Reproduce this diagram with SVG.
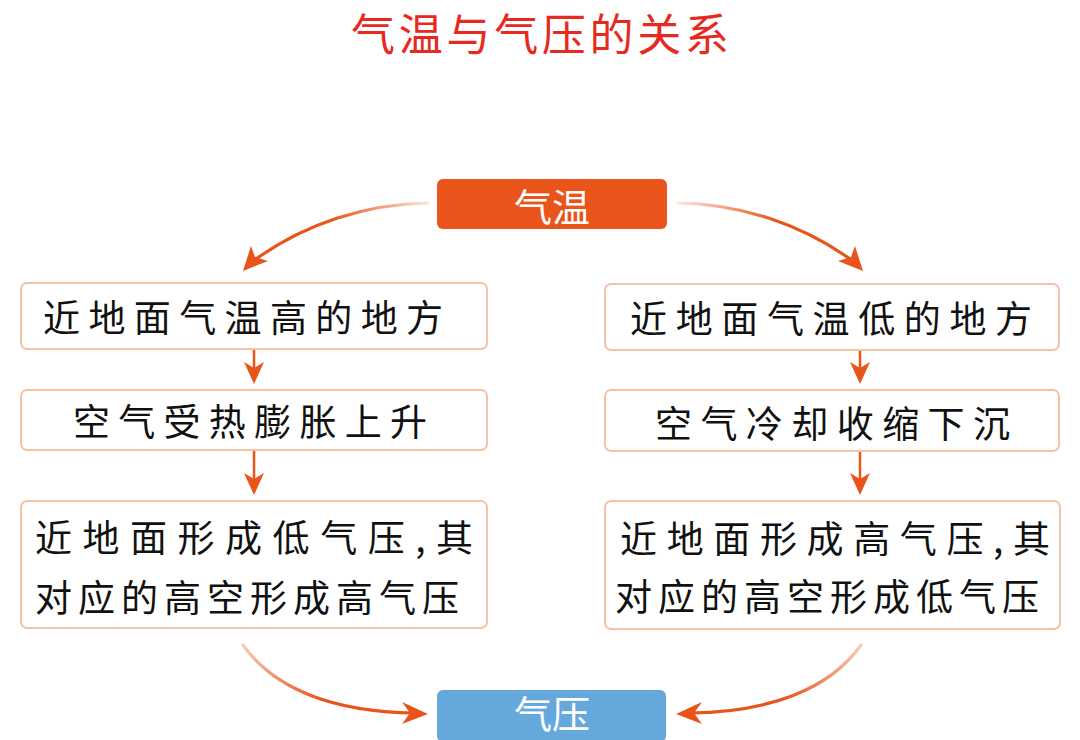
<svg xmlns="http://www.w3.org/2000/svg" width="1080" height="740" viewBox="0 0 1080 740">
<style>
.box{fill:#ffffff;stroke:#f5c3a6;stroke-width:2}
.t{font-family:"Noto Sans CJK SC","Noto Sans",sans-serif;font-size:37px;fill:#111111;dominant-baseline:central}
.hd{font-family:"Noto Sans CJK SC","Noto Sans",sans-serif;font-size:38px;fill:#ffffff;text-anchor:middle;dominant-baseline:central}
.ar{fill:none;stroke-width:3.2;stroke-linecap:round}
.ah{fill:#e8541a}
.sh{stroke:#e8541a;stroke-width:2.5}
</style>
<defs>
<linearGradient id="gL" gradientUnits="userSpaceOnUse" x1="430" y1="203" x2="330" y2="215"><stop offset="0" stop-color="#e8541a" stop-opacity="0.15"/><stop offset="1" stop-color="#e8541a"/></linearGradient>
<linearGradient id="gR" gradientUnits="userSpaceOnUse" x1="678" y1="203" x2="778" y2="215"><stop offset="0" stop-color="#e8541a" stop-opacity="0.15"/><stop offset="1" stop-color="#e8541a"/></linearGradient>
<linearGradient id="gBL" gradientUnits="userSpaceOnUse" x1="243" y1="645" x2="320" y2="700"><stop offset="0" stop-color="#e8541a" stop-opacity="0.3"/><stop offset="1" stop-color="#e8541a"/></linearGradient>
<linearGradient id="gBR" gradientUnits="userSpaceOnUse" x1="861" y1="645" x2="784" y2="700"><stop offset="0" stop-color="#e8541a" stop-opacity="0.3"/><stop offset="1" stop-color="#e8541a"/></linearGradient>
</defs>
<text id="title" x="540" y="32" font-family="'Noto Sans CJK SC','Noto Sans',sans-serif" font-size="44" fill="#e62a1f" text-anchor="middle" dominant-baseline="central" textLength="378" lengthAdjust="spacing">气温与气压的关系</text>

<g id="n-qiwen"><rect x="437" y="179" width="230" height="50" rx="6" fill="#e8541a"/><text class="hd" x="552" y="204" font-size="40">气温</text></g>
<g id="n-qiya"><rect x="437" y="690" width="229" height="52" rx="6" fill="#64a8dc"/><text class="hd" x="552" y="711">气压</text></g>

<g id="n-l1"><rect class="box" x="21" y="283" width="466" height="66" rx="6"/><text class="t" x="43" y="316" textLength="400" lengthAdjust="spacing">近地面气温高的地方</text></g>
<g id="n-l2"><rect class="box" x="21" y="390" width="466" height="60" rx="6"/><text class="t" x="73" y="420" textLength="354" lengthAdjust="spacing">空气受热膨胀上升</text></g>
<g id="n-l3"><rect class="box" x="21" y="501" width="466" height="127" rx="6"/><text class="t" x="35" y="536" textLength="438" lengthAdjust="spacing">近地面形成低气压,其</text><text class="t" x="35" y="596" textLength="424" lengthAdjust="spacing">对应的高空形成高气压</text></g>

<g id="n-r1"><rect class="box" x="605" y="284" width="454" height="66" rx="6"/><text class="t" x="630" y="317" textLength="402" lengthAdjust="spacing">近地面气温低的地方</text></g>
<g id="n-r2"><rect class="box" x="605" y="390" width="454" height="61" rx="6"/><text class="t" x="655" y="422" textLength="355" lengthAdjust="spacing">空气冷却收缩下沉</text></g>
<g id="n-r3"><rect class="box" x="605" y="501" width="455" height="128" rx="6"/><text class="t" x="620" y="537" textLength="430" lengthAdjust="spacing">近地面形成高气压,其</text><text class="t" x="615" y="595" textLength="424" lengthAdjust="spacing">对应的高空形成低气压</text></g>

<g id="connectors">
<path class="ar" stroke="url(#gL)" d="M428,203 C365,204 305,224 256,259"/>
<path class="ah" d="M243,271 L251,246 L255,257 L268,261 Z"/>
<path class="ar" stroke="url(#gR)" d="M678,203 C741,204 801,224 850,259"/>
<path class="ah" d="M863,271 L855,246 L851,257 L838,261 Z"/>

<line class="sh" x1="254" y1="350" x2="254" y2="372"/>
<path class="ah" d="M254,384 L244,362 L254,368 L264,362 Z"/>
<line class="sh" x1="254" y1="451" x2="254" y2="483"/>
<path class="ah" d="M254,495 L244,473 L254,479 L264,473 Z"/>
<line class="sh" x1="860" y1="351" x2="860" y2="372"/>
<path class="ah" d="M860,384 L850,362 L860,368 L870,362 Z"/>
<line class="sh" x1="860" y1="452" x2="860" y2="483"/>
<path class="ah" d="M860,495 L850,473 L860,479 L870,473 Z"/>

<path class="ar" stroke="url(#gBL)" d="M243,645 C275,690 335,712 414,713"/>
<path class="ah" d="M428,714 L402,702 L410,713 L402,724 Z"/>
<path class="ar" stroke="url(#gBR)" d="M861,645 C829,690 769,712 690,713"/>
<path class="ah" d="M676,714 L702,702 L694,713 L702,724 Z"/>
</g>
</svg>
